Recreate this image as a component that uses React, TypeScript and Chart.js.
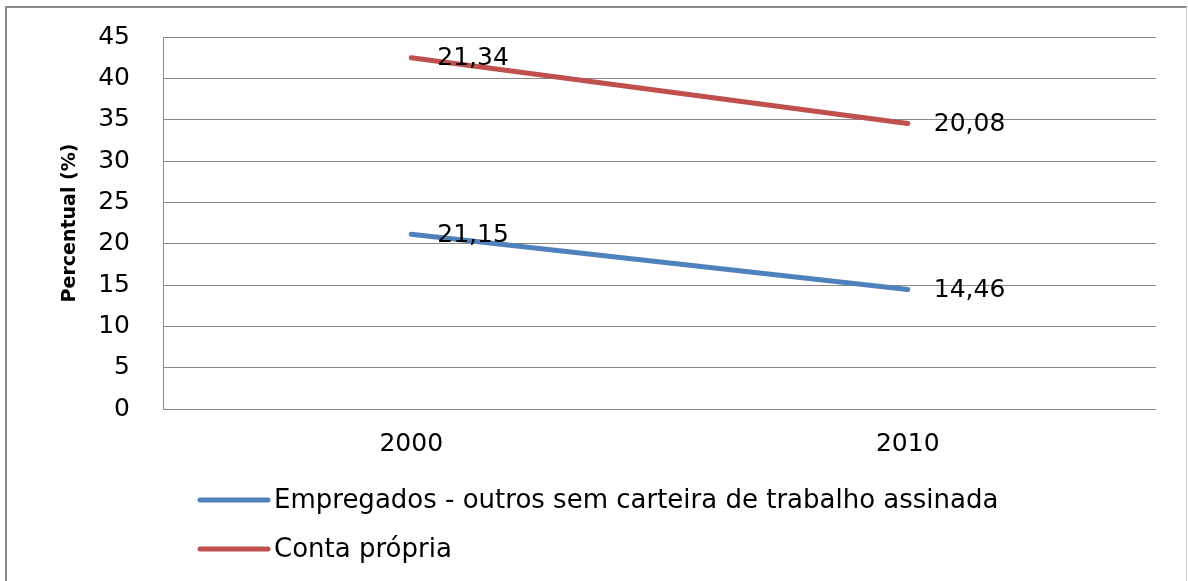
import React, { useEffect, useRef } from "react";
import { Chart, registerables } from "chart.js";

Chart.register(...registerables);

const categories = ["2000", "2010"];
const seriesNames = [
  "Empregados - outros sem carteira de trabalho assinada",
  "Conta própria",
];
const empregadosValues = [21.15, 14.46];
const contaPropriaValues = [21.34, 20.08];
const seriesColors = ["#4F81BD", "#C0504D"];
const yTickMin = 0;
const yTickMax = 45;
const yTickStep = 5;
const yTitle = "Percentual (%)";

const FONT = "DejaVu Sans";

const dataLabelPlugin = {
  id: "dataLabels",
  afterDatasetsDraw(chart: any) {
    const ctx = chart.ctx;
    ctx.save();
    ctx.font = `25px "${FONT}"`;
    ctx.fillStyle = "#000";
    ctx.textAlign = "left";
    ctx.textBaseline = "middle";
    chart.data.datasets.forEach((ds: any, di: number) => {
      const meta = chart.getDatasetMeta(di);
      meta.data.forEach((pt: any, i: number) => {
        const v = ds.data[i];
        const txt = v.toFixed(2).replace(".", ",");
        ctx.fillText(txt, pt.x + 26, pt.y + 1);
      });
    });
    ctx.restore();
  },
};

const legendPlugin = {
  id: "customLegend",
  afterDraw(chart: any) {
    const ctx = chart.ctx;
    const area = chart.chartArea;
    ctx.save();
    ctx.font = `26px "${FONT}"`;
    ctx.textAlign = "left";
    ctx.textBaseline = "middle";
    chart.data.datasets.forEach((ds: any, i: number) => {
      const y = area.bottom + 91 + i * 49;
      const x0 = area.left + 37;
      ctx.strokeStyle = ds.borderColor;
      ctx.lineWidth = 5;
      ctx.lineCap = "round";
      ctx.beginPath();
      ctx.moveTo(x0, y);
      ctx.lineTo(x0 + 68, y);
      ctx.stroke();
      ctx.fillStyle = "#000";
      ctx.fillText(ds.label, x0 + 74, y + 1);
    });
    ctx.restore();
  },
};

export default function App() {
  const ref = useRef<HTMLCanvasElement>(null);
  useEffect(() => {
    if (!ref.current) return;
    const chart = new Chart(ref.current, {
      type: "line",
      data: {
        labels: categories,
        datasets: [
          {
            label: seriesNames[0],
            data: empregadosValues,
            borderColor: seriesColors[0],
            backgroundColor: seriesColors[0],
            borderWidth: 5,
            borderCapStyle: "round",
            pointRadius: 0,
            tension: 0,
            fill: false,
          },
          {
            label: seriesNames[1],
            data: contaPropriaValues,
            borderColor: seriesColors[1],
            backgroundColor: seriesColors[1],
            borderWidth: 5,
            borderCapStyle: "round",
            pointRadius: 0,
            tension: 0,
            fill: false,
          },
        ],
      },
      options: {
        responsive: false,
        animation: false,
        devicePixelRatio: 1,
        layout: { padding: { left: 0, top: 37, right: 32, bottom: 112 } },
        plugins: {
          legend: { display: false },
          tooltip: { enabled: false },
        },
        scales: {
          x: {
            offset: true,
            grid: { display: false, drawTicks: false },
            border: { display: false },
            ticks: {
              color: "#000",
              font: { family: FONT, size: 25 },
              padding: 20,
            },
            afterFit: (s: any) => {
              s.height = 60;
              s.paddingLeft = 0;
              s.paddingRight = 0;
            },
          },
          y: {
            stacked: true,
            min: yTickMin,
            max: yTickMax,
            grid: { color: "#888", lineWidth: 1, drawTicks: false },
            border: { display: true, color: "#888", width: 1 },
            ticks: {
              stepSize: yTickStep,
              color: "#000",
              font: { family: FONT, size: 25 },
              padding: 33,
            },
            title: {
              display: true,
              text: yTitle,
              color: "#000",
              font: { family: FONT, size: 19, weight: "bold" },
              padding: { top: 59, bottom: 0 },
            },
            afterFit: (s: any) => {
              s.width = 163;
              s.paddingTop = 0;
              s.paddingBottom = 0;
            },
          },
        },
      },
      plugins: [dataLabelPlugin, legendPlugin],
    });
    return () => chart.destroy();
  }, []);

  return (
    <div
      style={{
        position: "fixed",
        left: 0,
        top: 0,
        width: 1188,
        height: 581,
        background: "#fff",
        overflow: "hidden",
      }}
    >
      <canvas ref={ref} width={1188} height={581} style={{ display: "block" }} />
      <div
        style={{
          position: "absolute",
          left: 5,
          top: 6,
          width: 1188 - 5 - 2 - 2,
          height: 600,
          borderLeft: "2px solid #8a8a8a",
          borderTop: "2px solid #8a8a8a",
          borderRight: "1px solid #d0d0d0",
          pointerEvents: "none",
        }}
      />
    </div>
  );
}
